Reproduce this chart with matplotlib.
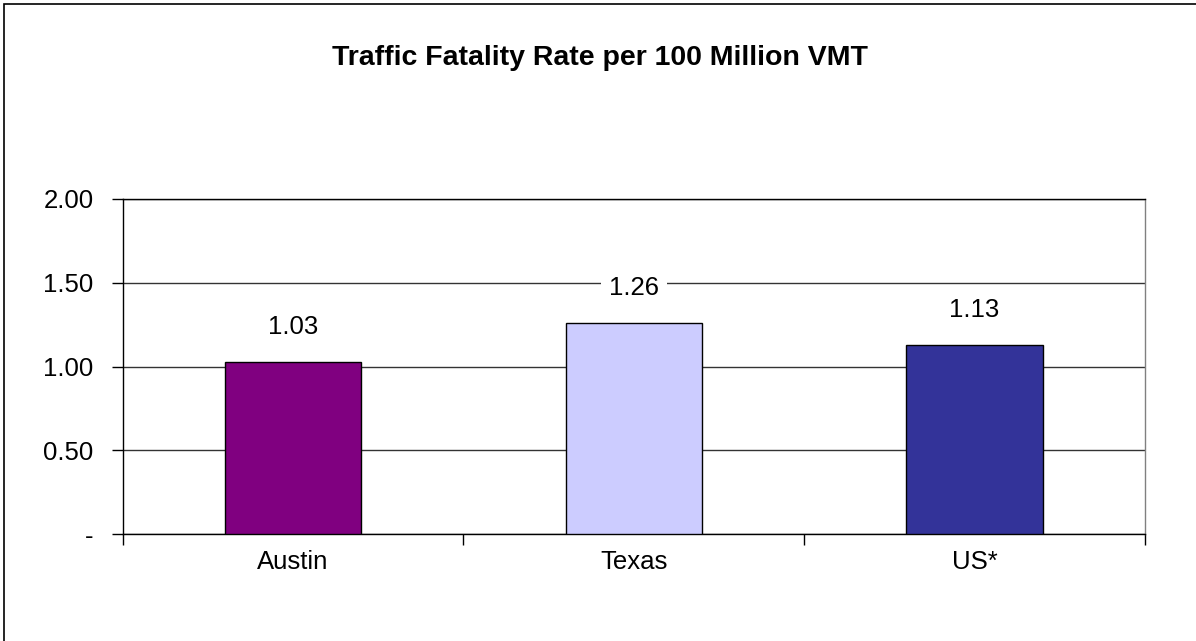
import matplotlib
matplotlib.use("Agg")
import matplotlib.pyplot as plt
from matplotlib.patches import Rectangle

categories = ["Austin", "Texas", "US*"]
values = [1.03, 1.26, 1.13]
colors = ["#800080", "#CCCCFF", "#333399"]
yticks = [0, 0.5, 1.0, 1.5, 2.0]
ytick_labels = ["-", "0.50", "1.00", "1.50", "2.00"]
title = "Traffic Fatality Rate per 100 Million VMT"

plt.rcParams['font.family'] = ['Liberation Sans', 'DejaVu Sans']

W, H = 1196, 641
fig = plt.figure(figsize=(W / 100, H / 100), dpi=100)
fig.patch.set_facecolor("white")

# outer chart border (left/top visible)
fig.add_artist(Rectangle((4 / W, -0.1), 1.2, (H - 4) / H + 0.1, transform=fig.transFigure,
                         fill=False, edgecolor="#000000", linewidth=1.2))

ax = fig.add_axes([122.7 / W, (H - 534.3) / H, (1145 - 122.7) / W, (534.3 - 199) / H])
x = list(range(len(categories)))
ax.bar(x, values, width=0.4, color=colors, edgecolor="#000000", linewidth=1.0, zorder=3)
ax.set_xlim(-0.5, len(categories) - 0.5)
ax.set_ylim(0, 2.0)
ax.set_yticks(yticks)
ax.set_yticklabels(ytick_labels, fontsize=18.5)
ax.set_xticks(x)
ax.set_xticklabels(categories, fontsize=18.5)
ax.set_xticks([-0.5, 0.5, 1.5, 2.5], minor=True)
ax.tick_params(axis='x', which='major', length=0, pad=11)
ax.tick_params(axis='x', which='minor', length=8, width=1, direction='out')
ax.tick_params(axis='y', length=8, width=1, direction='out', pad=13)

ax.grid(axis='y', color="#333333", linewidth=1.0, zorder=1)
ax.spines['left'].set_color("#000000")
ax.spines['bottom'].set_color("#000000")
ax.spines['top'].set_color("#000000")
ax.spines['right'].set_color("#808080")
for s in ax.spines.values():
    s.set_linewidth(1.0)

for xi, v in zip(x, values):
    ax.annotate(f"{v:.2f}", xy=(xi, v), xytext=(0, 25), textcoords="offset points",
                ha="center", va="center", fontsize=18.5, zorder=4,
                bbox=dict(boxstyle="square,pad=0.3", facecolor="white", edgecolor="none"))

fig.text(600 / W, 1 - 58 / H, title, ha="center", va="center", fontsize=20.5, fontweight="bold")

fig.savefig("out.png", dpi=100, facecolor="white")
